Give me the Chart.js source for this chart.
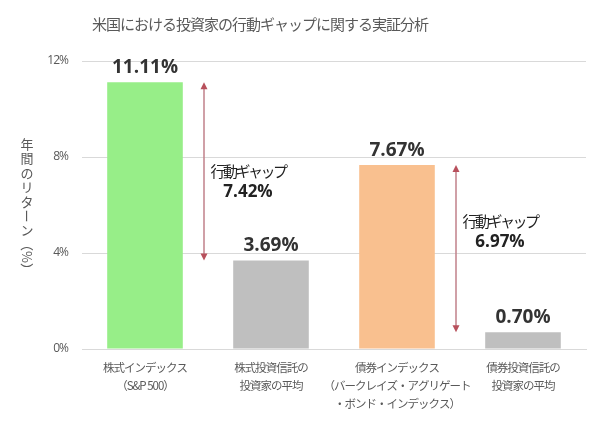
<!DOCTYPE html>
<html>
<head>
<meta charset="utf-8">
<script src="https://cdn.jsdelivr.net/npm/chart.js@4"></script>
<style>
  body { margin: 0; background: #fff; }
  #wrap { width: 600px; height: 442px; }
</style>
</head>
<body>
<div id="wrap"><canvas id="grafico"></canvas></div>
<script>
// dados do gráfico
const categorias = [
  ['株式インデックス', '（S&P 500）'],
  ['株式投資信託の', '投資家の平均'],
  ['債券インデックス', '（バークレイズ・アグリゲート', '・ボンド・インデックス）'],
  ['債券投資信託の', '投資家の平均']
];
const retornos = [11.11, 3.69, 7.67, 0.70];
const cores = ['#97ee88', '#bfbfbf', '#f9c08f', '#bfbfbf'];
const ticksY = [0, 4, 8, 12];
// gaps: índice da barra de cima e de baixo
const gapDe = [0, 2];
const gapAte = [1, 3];
const gapRotulo = ['7.42%', '6.97%'];
const titulo = '米国における投資家の行動ギャップに関する実証分析';
const tituloY = ['年', '間', 'の', 'リ', 'タ', 'ー', 'ン', '（%）'];

const fonteJP = '"Noto Sans CJK JP", "Noto Sans", sans-serif';
const fonteNum = '"Open Sans", "Noto Sans", sans-serif';

// plugin para textos e setas
const extras = {
  id: 'extras',
  beforeDraw(chart) {
    // kana mais estreito nos rótulos do eixo x
    chart.ctx.letterSpacing = '-1px';
  },
  beforeDatasetsDraw(chart) {
    chart.ctx.letterSpacing = '0px';
  },
  afterDatasetsDraw(chart) {
    const ctx = chart.ctx;
    const x = chart.scales.x, y = chart.scales.y;
    const meta = chart.getDatasetMeta(0);
    ctx.save();

    // título
    ctx.fillStyle = '#595959';
    ctx.font = '15px ' + fonteJP;
    ctx.letterSpacing = '-1px';
    ctx.textAlign = 'center';
    ctx.textBaseline = 'middle';
    ctx.fillText(titulo, 260, 24);
    ctx.letterSpacing = '0px';

    // título do eixo y (vertical)
    ctx.fillStyle = '#595959';
    ctx.font = '13px ' + fonteJP;
    let py = 144;
    tituloY.forEach(ch => {
      if (ch === 'ー' || ch.length > 1) {
        const w = ctx.measureText(ch).width;
        ctx.save();
        ctx.translate(27, py + w / 2 - 7);
        ctx.rotate(Math.PI / 2);
        ctx.fillText(ch, 0, 0);
        ctx.restore();
        py += w + 1;
      } else {
        ctx.fillText(ch, 27, py);
        py += 14.5;
      }
    });

    // rótulos de valor
    ctx.fillStyle = '#333';
    ctx.font = 'bold 19px ' + fonteNum;
    ctx.textBaseline = 'alphabetic';
    meta.data.forEach((bar, i) => {
      ctx.fillText(retornos[i].toFixed(2) + '%', bar.x, bar.y - 9);
    });

    // setas de gap
    gapDe.forEach((a, k) => {
      const b = gapAte[k];
      const ax = (x.getPixelForValue(a) + x.getPixelForValue(b)) / 2 - 4;
      const y1 = y.getPixelForValue(retornos[a]);
      const y2 = y.getPixelForValue(retornos[b]);
      ctx.strokeStyle = '#c0808a';
      ctx.fillStyle = '#b8505c';
      ctx.lineWidth = 1.5;
      ctx.beginPath();
      ctx.moveTo(ax, y1 + 4);
      ctx.lineTo(ax, y2 - 4);
      ctx.stroke();
      ctx.beginPath();
      ctx.moveTo(ax, y1); ctx.lineTo(ax - 3.5, y1 + 7); ctx.lineTo(ax + 3.5, y1 + 7);
      ctx.closePath(); ctx.fill();
      ctx.beginPath();
      ctx.moveTo(ax, y2); ctx.lineTo(ax - 3.5, y2 - 7); ctx.lineTo(ax + 3.5, y2 - 7);
      ctx.closePath(); ctx.fill();

      const mid = y.getPixelForValue((retornos[a] + retornos[b]) / 2);
      const off = k === 0 ? 0 : -27;
      ctx.fillStyle = '#222';
      ctx.font = '15px ' + fonteJP;
      ctx.letterSpacing = '-2.5px';
      ctx.textBaseline = 'middle';
      ctx.fillText('行動ギャップ', ax + 44, mid + off);
      ctx.letterSpacing = '0px';
      ctx.font = 'bold 17px ' + fonteNum;
      ctx.fillText(gapRotulo[k], ax + 44, mid + off + 21);
      ctx.textBaseline = 'alphabetic';
    });

    ctx.restore();
  }
};

new Chart(document.getElementById('grafico'), {
  type: 'bar',
  data: {
    labels: categorias,
    datasets: [{
      data: retornos,
      backgroundColor: cores,
      barPercentage: 0.6,
      categoryPercentage: 1.0
    }]
  },
  options: {
    responsive: true,
    maintainAspectRatio: false,
    animation: false,
    layout: { padding: { left: 0, right: 14, top: 61, bottom: 0 } },
    plugins: {
      legend: { display: false },
      tooltip: { enabled: false }
    },
    scales: {
      x: {
        afterFit: ax => { ax.height = 93; },
        grid: { display: false },
        border: { color: '#d9d9d9' },
        ticks: {
          color: '#595959',
          font: { size: 11.5, family: fonteJP, lineHeight: 1.56 },
          padding: 2,
          maxRotation: 0,
          autoSkip: false
        }
      },
      y: {
        min: 0,
        max: 12,
        afterBuildTicks: ax => { ax.ticks = ticksY.map(v => ({ value: v })); },
        afterFit: ax => { ax.width = 82; },
        grid: { color: '#d9d9d9', drawTicks: false },
        border: { display: false },
        ticks: {
          color: '#595959',
          font: { size: 12, family: fonteNum },
          padding: 14,
          callback: v => v + '%'
        }
      }
    }
  },
  plugins: [extras]
});
</script>
</body>
</html>
